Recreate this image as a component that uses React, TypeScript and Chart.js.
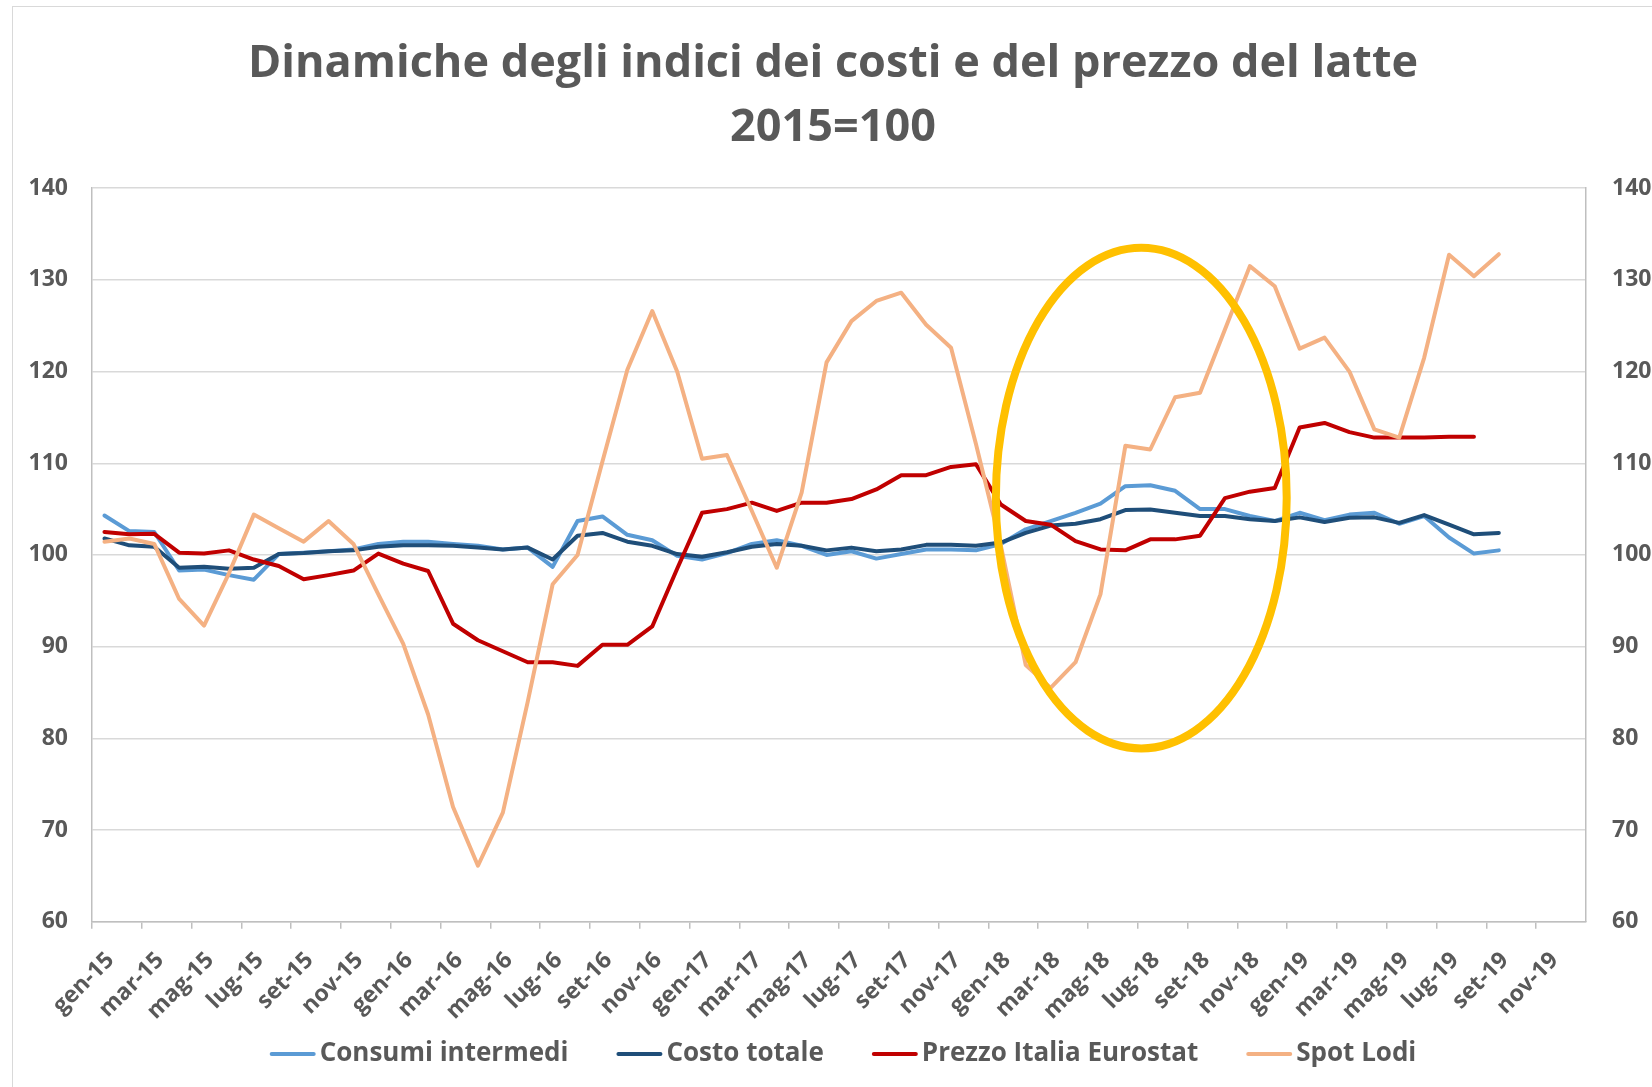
import React, { useEffect, useRef } from "react";
import { Chart, registerables } from "chart.js";

Chart.register(...registerables);

const MONTHS = ["gen", "feb", "mar", "apr", "mag", "giu", "lug", "ago", "set", "ott", "nov", "dic"];
const YEARS = ["15", "16", "17", "18", "19"];
const CATEGORIES: string[] = YEARS.flatMap((y) => MONTHS.map((m) => `${m}-${y}`));

const TITLE_LINES = ["Dinamiche degli indici dei costi e del prezzo del latte", "2015=100"];

const CONSUMI_INTERMEDI: (number | null)[] = [
  104.3, 102.6, 102.5, 98.3, 98.4, 97.8, 97.3, 100.1, 100.25, 100.4, 100.6, 101.2,
  101.45, 101.45, 101.2, 101.0, 100.6, 100.8, 98.7, 103.7, 104.2, 102.2, 101.6, 99.9,
  99.5, 100.2, 101.2, 101.6, 101.0, 100.0, 100.4, 99.6, 100.1, 100.6, 100.6, 100.5,
  101.2, 102.8, 103.7, 104.6, 105.6, 107.5, 107.6, 107.0, 105.0, 105.0, 104.25, 103.7,
  104.6, 103.8, 104.4, 104.6, 103.4, 104.25, 101.9, 100.15, 100.5, null, null, null,
];

const COSTO_TOTALE: (number | null)[] = [
  101.8, 101.05, 100.9, 98.6, 98.7, 98.5, 98.6, 100.1, 100.2, 100.4, 100.5, 100.9,
  101.05, 101.05, 101.0, 100.8, 100.6, 100.8, 99.5, 102.1, 102.4, 101.45, 101.0, 100.1,
  99.8, 100.3, 100.9, 101.2, 101.0, 100.5, 100.8, 100.4, 100.6, 101.1, 101.1, 101.0,
  101.35, 102.4, 103.2, 103.4, 103.9, 104.9, 104.95, 104.6, 104.25, 104.25, 103.9, 103.7,
  104.1, 103.6, 104.05, 104.1, 103.5, 104.35, 103.3, 102.25, 102.4, null, null, null,
];

const PREZZO_ITALIA_EUROSTAT: (number | null)[] = [
  102.5, 102.25, 102.3, 100.25, 100.15, 100.5, 99.5, 98.8, 97.35, 97.8, 98.3, 100.15,
  99.05, 98.25, 92.5, 90.7, 89.5, 88.3, 88.3, 87.9, 90.2, 90.2, 92.2, 98.5,
  104.6, 105.0, 105.7, 104.8, 105.7, 105.7, 106.1, 107.15, 108.7, 108.7, 109.6, 109.9,
  105.5, 103.7, 103.3, 101.5, 100.6, 100.5, 101.7, 101.7, 102.1, 106.2, 106.9, 107.3,
  113.9, 114.4, 113.4, 112.8, 112.8, 112.8, 112.9, 112.9, null, null, null, null,
];

const SPOT_LODI: (number | null)[] = [
  101.45, 101.8, 101.2, 95.2, 92.3, 98.0, 104.4, 102.9, 101.45, 103.7, 101.2, 95.7,
  90.3, 82.6, 72.5, 66.1, 71.9, 84.0, 96.8, 100.0, 110.2, 120.2, 126.6, 120.0,
  110.5, 110.9, 104.8, 98.6, 106.8, 121.0, 125.5, 127.7, 128.6, 125.1, 122.6, 112.1,
  101.0, 88.0, 85.5, 88.3, 95.7, 111.9, 111.5, 117.2, 117.7, 124.6, 131.5, 129.3,
  122.5, 123.7, 120.0, 113.7, 112.8, 121.5, 132.75, 130.4, 132.8, null, null, null,
];

const SERIES_NAMES = ["Consumi intermedi", "Costo totale", "Prezzo Italia Eurostat", "Spot Lodi"];
const SERIES_COLORS = ["#5B9BD5", "#1F4E79", "#C00000", "#F4B183"];

const Y_MIN = 60;
const Y_MAX = 140;
const Y_STEP = 10;

// highlight ellipse, in data units (category index / index value)
const HIGHLIGHT = { cx: 41.64, cy: 106.2, rx: 5.84, ry: 27.3 };

const FONT = "'Open Sans', 'DejaVu Sans', sans-serif";
const TEXT_COLOR = "#595959";
const AXIS_COLOR = "#bfbfbf";
const GRID_COLOR = "#d9d9d9";

const highlightPlugin = {
  id: "highlightEllipse",
  afterDatasetsDraw(chart: any) {
    const { ctx, scales } = chart;
    const x = scales.x;
    const y = scales.y;
    const cx = x.getPixelForValue(HIGHLIGHT.cx);
    const cy = y.getPixelForValue(HIGHLIGHT.cy);
    const rx = Math.abs(x.getPixelForValue(HIGHLIGHT.cx + HIGHLIGHT.rx) - cx);
    const ry = Math.abs(y.getPixelForValue(HIGHLIGHT.cy + HIGHLIGHT.ry) - cy);
    ctx.save();
    ctx.beginPath();
    ctx.ellipse(cx, cy, rx, ry, 0, 0, Math.PI * 2);
    ctx.lineWidth = 8;
    ctx.strokeStyle = "#FFC000";
    ctx.stroke();
    ctx.restore();
  },
};

// Excel-like legend: short line sample right next to the text
const legendPlugin = {
  id: "excelLegend",
  afterDraw(chart: any) {
    const { ctx, chartArea } = chart;
    const sampleW = 46;
    const sampleGap = 4;
    const itemGap = 48;
    ctx.save();
    ctx.font = `bold 26px ${FONT}`;
    const widths = SERIES_NAMES.map((n) => sampleW + sampleGap + ctx.measureText(n).width);
    const total = widths.reduce((a, b) => a + b, 0) + itemGap * (SERIES_NAMES.length - 1);
    let x = (chartArea.left + chartArea.right) / 2 + 4 - total / 2;
    const y = chart.height - 34;
    ctx.textBaseline = "middle";
    ctx.textAlign = "left";
    SERIES_NAMES.forEach((name, i) => {
      ctx.beginPath();
      ctx.strokeStyle = SERIES_COLORS[i];
      ctx.lineWidth = 4;
      ctx.lineCap = "round";
      ctx.moveTo(x + 2, y);
      ctx.lineTo(x + sampleW - 2, y);
      ctx.stroke();
      ctx.fillStyle = TEXT_COLOR;
      ctx.fillText(name, x + sampleW + sampleGap, y);
      x += widths[i] + itemGap;
    });
    ctx.restore();
  },
};

export default function App() {
  const canvasRef = useRef<HTMLCanvasElement | null>(null);

  useEffect(() => {
    if (!canvasRef.current) return;
    const seriesData = [CONSUMI_INTERMEDI, COSTO_TOTALE, PREZZO_ITALIA_EUROSTAT, SPOT_LODI];
    const tickFont = { family: FONT, size: 23, weight: "bold" as const };
    const chart = new Chart(canvasRef.current, {
      type: "line",
      data: {
        labels: CATEGORIES,
        datasets: seriesData.map((d, i) => ({
          label: SERIES_NAMES[i],
          data: d,
          borderColor: SERIES_COLORS[i],
          backgroundColor: SERIES_COLORS[i],
          borderWidth: 4,
          pointRadius: 0,
          pointHoverRadius: 0,
          tension: 0,
          borderJoinStyle: "round" as const,
          borderCapStyle: "round" as const,
          spanGaps: false,
          order: 4 - i,
          yAxisID: "y",
        })),
      },
      options: {
        responsive: false,
        animation: false,
        events: [],
        layout: { padding: { top: 0, bottom: 56.3, left: 0, right: 0 } },
        plugins: {
          tooltip: { enabled: false },
          title: {
            display: true,
            text: TITLE_LINES,
            color: TEXT_COLOR,
            font: { family: FONT, size: 45, weight: "bold", lineHeight: 1.43 },
            padding: { top: 25, bottom: 27.5 },
          },
          legend: { display: false },
        },
        scales: {
          x: {
            type: "category",
            offset: true,
            grid: {
              offset: true,
              drawOnChartArea: false,
              drawTicks: true,
              tickLength: 7,
              lineWidth: 1.5,
              tickColor: (ctx: any) => (ctx.index % 2 === 0 ? AXIS_COLOR : "rgba(0,0,0,0)"),
            },
            border: { color: AXIS_COLOR, width: 1.5 },
            ticks: {
              autoSkip: false,
              maxRotation: 45,
              minRotation: 45,
              padding: 18,
              labelOffset: 6,
              color: TEXT_COLOR,
              font: tickFont,
              callback: (_v: any, i: number) => (i % 2 === 0 ? CATEGORIES[i] : ""),
            },
            afterFit: (s: any) => {
              s.height = 110;
            },
          },
          y: {
            position: "left",
            min: Y_MIN,
            max: Y_MAX,
            ticks: { stepSize: Y_STEP, color: TEXT_COLOR, font: tickFont, padding: 24 },
            grid: { color: GRID_COLOR, lineWidth: 1.5, drawTicks: false },
            border: { color: AXIS_COLOR, width: 1.5 },
            afterFit: (s: any) => {
              s.width = 79;
            },
          },
          y1: {
            position: "right",
            min: Y_MIN,
            max: Y_MAX,
            ticks: { stepSize: Y_STEP, color: TEXT_COLOR, font: tickFont, padding: 26 },
            grid: { drawOnChartArea: false, drawTicks: false },
            border: { color: AXIS_COLOR, width: 1.5 },
            afterFit: (s: any) => {
              s.width = 67;
            },
          },
        },
      },
      plugins: [highlightPlugin, legendPlugin],
    });
    return () => chart.destroy();
  }, []);

  return (
    <div
      style={{
        position: "fixed",
        left: 0,
        top: 0,
        width: 1652,
        height: 1087,
        overflow: "hidden",
        background: "#ffffff",
      }}
    >
      <div
        style={{
          position: "absolute",
          left: 12,
          top: 6,
          width: 1700,
          height: 1100,
          border: "1px solid #d9d9d9",
          boxSizing: "border-box",
        }}
      >
        <canvas
          ref={canvasRef}
          width={1640}
          height={1081}
          style={{ position: "absolute", left: 0, top: 0, width: 1640, height: 1081 }}
        />
      </div>
    </div>
  );
}
